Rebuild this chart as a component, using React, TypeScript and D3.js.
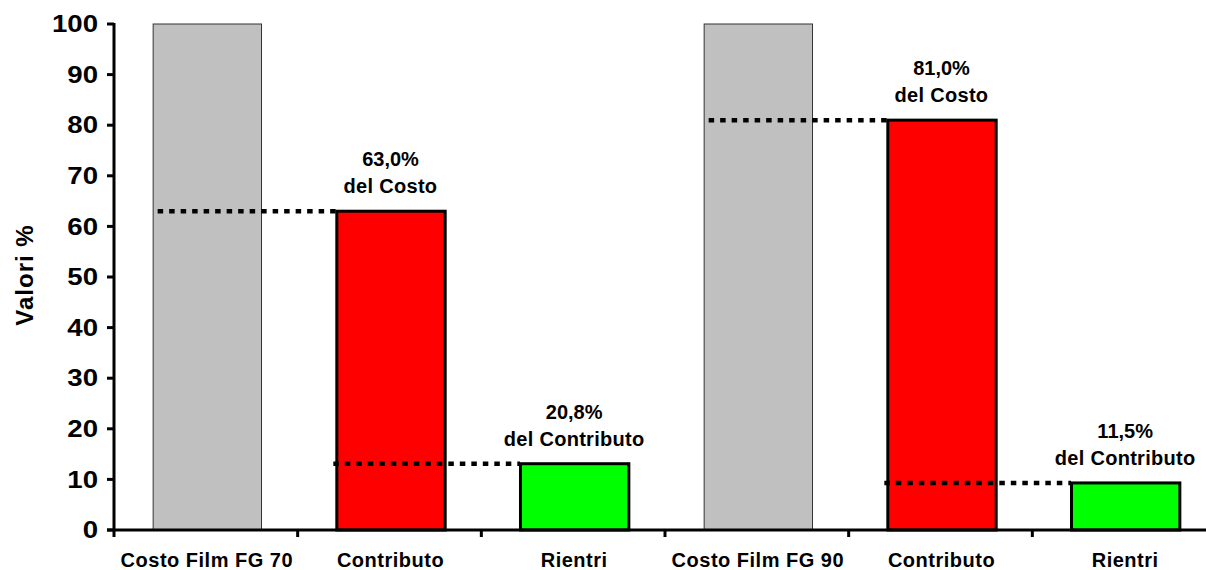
import React from "react";
import * as d3 from "d3";

const categories = ["Costo Film FG 70", "Contributo", "Rientri", "Costo Film FG 90", "Contributo", "Rientri"];
const values = [100, 63.0, 13.1, 100, 81.0, 9.3];
const kinds = ["costo", "contributo", "rientri", "costo", "contributo", "rientri"];
const yTicks = [0, 10, 20, 30, 40, 50, 60, 70, 80, 90, 100];
const annotPct = ["", "63,0%", "20,8%", "", "81,0%", "11,5%"];
const annotRef = ["", "del Costo", "del Contributo", "", "del Costo", "del Contributo"];
// dotted connectors: [fromIndex, toIndex]
const links: [number, number][] = [[0, 1], [1, 2], [3, 4], [4, 5]];

const fills: Record<string, string> = { costo: "#c0c0c0", contributo: "#ff0000", rientri: "#00ff00" };
const strokes: Record<string, string> = { costo: "#333333", contributo: "#000000", rientri: "#000000" };
const strokeW: Record<string, number> = { costo: 1, contributo: 3, rientri: 3 };

const W = 1206, H = 570;
const FONT = "'Liberation Sans', Arial, sans-serif";

export default function App() {
  const idx = categories.map((_, i) => String(i));
  const x = d3.scaleBand<string>().domain(idx).range([115, 1217]).paddingInner(0.41).paddingOuter(0.205);
  const y = d3.scaleLinear().domain([0, 100]).range([530, 24]);
  const step = x.step();
  const x0 = 114;
  const bw = x.bandwidth();

  return (
    <svg width={W} height={H} style={{ position: "absolute", left: 0, top: 0, background: "#fff" }}>
      <rect x={0} y={0} width={W} height={H} fill="#fff" />
      {/* bars */}
      {values.map((v, i) => (
        <rect key={"b" + i}
          x={x(String(i))! + 0.5} y={y(v)} width={bw} height={y(0) - y(v)}
          fill={fills[kinds[i]]} stroke={strokes[kinds[i]]} strokeWidth={strokeW[kinds[i]]} />
      ))}
      {/* dotted connectors */}
      {links.map(([a, b], k) => (
        <line key={"l" + k}
          x1={x(String(a))! + (kinds[a] === "costo" ? 5 : -3)} x2={x(String(b))!}
          y1={y(values[b])} y2={y(values[b])}
          stroke="#000" strokeWidth={4.5} strokeDasharray="5.5 6" />
      ))}
      {/* axes */}
      <line x1={114} x2={114} y1={y(100) - 1} y2={y(0) + 1.5} stroke="#000" strokeWidth={3} />
      <line x1={107} x2={W} y1={y(0)} y2={y(0)} stroke="#000" strokeWidth={3} />
      {yTicks.map((t) => (
        <g key={"yt" + t}>
          <line x1={107} x2={114} y1={y(t)} y2={y(t)} stroke="#000" strokeWidth={3} />
          <text transform={`translate(98,${y(t)}) scale(1.2,1)`} textAnchor="end" dominantBaseline="central"
            fontFamily={FONT} fontWeight="bold" fontSize={23} fill="#000">{t}</text>
        </g>
      ))}
      {d3.range(categories.length + 1).map((i) => (
        <line key={"xt" + i} x1={x0 + i * step} x2={x0 + i * step} y1={y(0)} y2={y(0) + 7} stroke="#000" strokeWidth={3} />
      ))}
      {categories.map((c, i) => (
        <text key={"xl" + i} x={x(String(i))! + bw / 2} y={567} textAnchor="middle"
          fontFamily={FONT} fontWeight="bold" fontSize={20} letterSpacing={0.5} fill="#000">{c}</text>
      ))}
      {/* annotations */}
      {values.map((v, i) => annotPct[i] ? (
        <g key={"a" + i}>
          <text x={x(String(i))! + bw / 2} y={y(v) - 45} textAnchor="middle"
            fontFamily={FONT} fontWeight="bold" fontSize={20} fill="#000">{annotPct[i]}</text>
          <text x={x(String(i))! + bw / 2} y={y(v) - 18} textAnchor="middle"
            fontFamily={FONT} fontWeight="bold" fontSize={20} letterSpacing={0.3} fill="#000">{annotRef[i]}</text>
        </g>
      ) : null)}
      {/* y title */}
      <text transform="translate(33,275) rotate(-90)" textAnchor="middle"
        fontFamily={FONT} fontWeight="bold" fontSize={24} letterSpacing={1} fill="#000">Valori %</text>
    </svg>
  );
}
